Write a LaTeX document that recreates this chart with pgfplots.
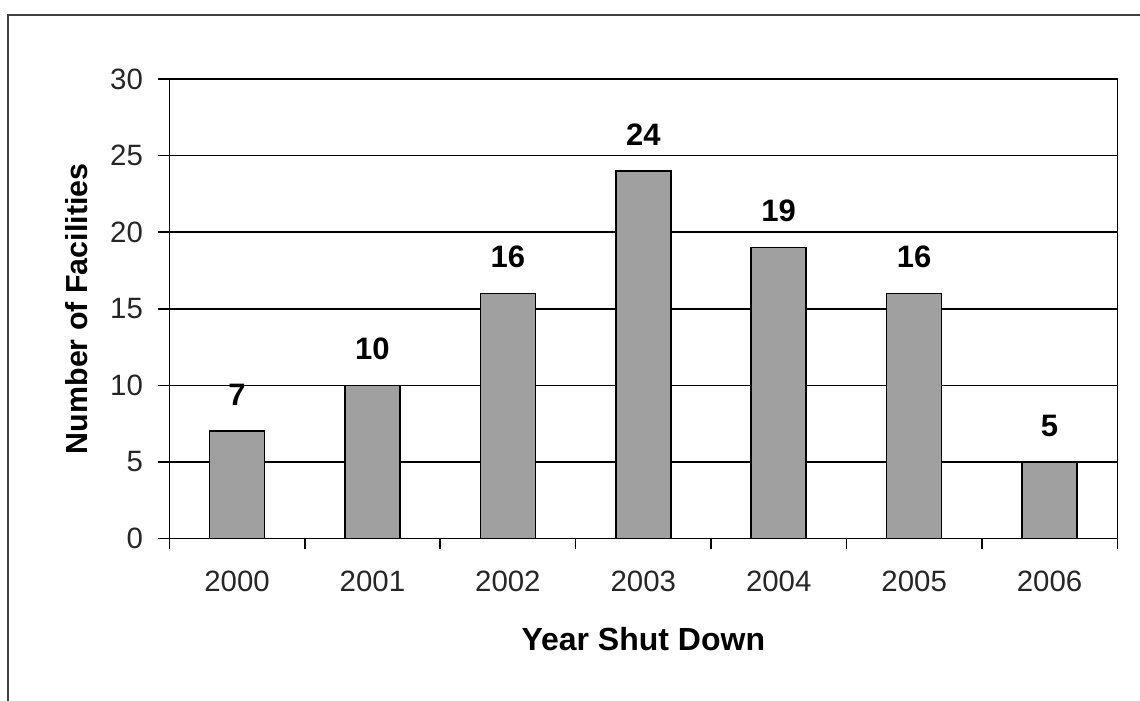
\documentclass[border=0pt]{standalone}
\usepackage{pgfplots}
\pgfplotsset{compat=1.18}
\usepackage{fontspec}
\setmainfont{Liberation Sans}
\definecolor{barfill}{HTML}{A0A0A0}
\definecolor{framegray}{HTML}{404040}
\definecolor{ticktext}{HTML}{262626}
\begin{document}
\begin{tikzpicture}[x=1pt,y=1pt]
\useasboundingbox (0,0) rectangle (570,350.5);
% outer chart frame
\draw[framegray, line width=1pt] (4.15,0) -- (4.15,343.15) -- (570,343.15);
\begin{axis}[
  at={(84.65pt,81.25pt)}, anchor=south west,
  scale only axis, width=474pt, height=229.75pt,
  xmin=-0.5, xmax=6.5, ymin=0, ymax=30,
  xtick={0,1,2,3,4,5,6},
  xticklabels={2000,2001,2002,2003,2004,2005,2006},
  minor xtick={-0.5,0.5,1.5,2.5,3.5,4.5,5.5,6.5},
  ytick={0,5,10,15,20,25,30},
  xtick pos=bottom, ytick pos=left,
  tick align=outside,
  major tick length=5.5pt, minor tick length=5.5pt,
  x tick style={draw=none},
  minor x tick style={draw=black, line width=0.8pt},
  y tick style={draw=black, line width=0.8pt},
  ymajorgrids,
  major grid style={black, line width=0.8pt},
  axis line style={black, line width=0.8pt},
  /pgf/number format/assume math mode=true,
  tick label style={font=\fontsize{14.7}{17}\selectfont, text=ticktext},
  xticklabel style={anchor=base, inner sep=0pt, yshift=-21.1pt},
  yticklabel style={anchor=east, inner sep=0pt, xshift=-7.5pt},
  xlabel={Year Shut Down},
  xlabel style={at={(axis description cs:0.5,-0.24266)}, anchor=base,
    font=\bfseries\fontsize{16}{19}\selectfont},
  ylabel={Number of Facilities},
  ylabel style={at={(axis description cs:-0.0865,0.5)}, anchor=base,
    font=\bfseries\fontsize{15.2}{18}\selectfont},
  ybar, bar width=27.5pt,
  nodes near coords={\pgfmathprintnumber{\pgfplotspointmeta}},
  every node near coord/.append style={anchor=base, inner sep=0pt, yshift=12.9pt,
    font=\bfseries\fontsize{15.5}{18}\selectfont, text=black},
]
\addplot[fill=barfill, draw=black, line width=0.8pt] coordinates {
  (0,7) (1,10) (2,16) (3,24) (4,19) (5,16) (6,5)
};
\end{axis}
\end{tikzpicture}
\end{document}
